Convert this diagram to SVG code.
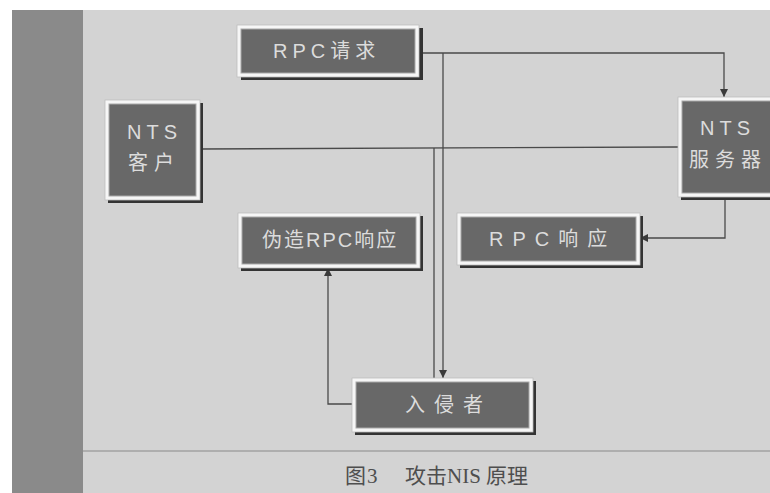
<svg xmlns="http://www.w3.org/2000/svg" width="770" height="493" viewBox="0 0 770 493">
  <defs>
    <style>
      .bg { fill: #d3d3d3; }
      .band { fill: #8a8a8a; }
      .shadow { fill: #333333; }
      .frame { fill: #f6f6f6; stroke: #bdbdbd; stroke-width: 0.8; }
      .inner { fill: #686868; stroke: #a8a8a8; stroke-width: 1; }
      .lbl { font-family: "Liberation Sans", "Noto Sans CJK SC", sans-serif; font-size: 20px; fill: #dcdcdc; dominant-baseline: central; }
      .conn { fill: none; stroke: #4a4a4a; stroke-width: 1.3; }
      .cap { font-family: "Liberation Serif", "Noto Sans CJK SC", serif; font-size: 21px; fill: #4e4e4e; }
    </style>
    <marker id="arr" viewBox="0 0 10 10" refX="10" refY="5" markerWidth="8" markerHeight="8" markerUnits="userSpaceOnUse" orient="auto">
      <path d="M0,0 L10,5 L0,10 z" fill="#3a3a3a"/>
    </marker>
  </defs>

  <rect x="0" y="0" width="770" height="493" fill="#ffffff"/>
  <rect class="bg" x="12" y="10" width="758" height="483"/>
  <rect class="band" x="12" y="10" width="71" height="483"/>
  <line x1="83" y1="451" x2="770" y2="451" stroke="#8a8a8a" stroke-width="1.2"/>

  <g id="connectors">
    <polyline class="conn" points="420,53 724,53 724,97" marker-end="url(#arr)"/>
    <polyline class="conn" points="443,53 443,378" marker-end="url(#arr)"/>
    <line class="conn" x1="200" y1="149" x2="678" y2="147"/>
    <polyline class="conn" points="434,148 434,378"/>
    <polyline class="conn" points="725,197 725,238 640,238" marker-end="url(#arr)"/>
    <polyline class="conn" points="352,404 328,404 328,268" marker-end="url(#arr)"/>
  </g>

  <g id="rpc-request">
    <rect class="shadow" x="241" y="28" width="182" height="52"/>
    <rect class="frame" x="237" y="25" width="182" height="52"/>
    <rect class="inner" x="241" y="29" width="174" height="44"/>
    <text class="lbl" x="273" y="51" letter-spacing="5">RPC请求</text>
  </g>

  <g id="nts-client">
    <rect class="shadow" x="108" y="103" width="95" height="100"/>
    <rect class="frame" x="105" y="100" width="95" height="100"/>
    <rect class="inner" x="109" y="104" width="87" height="92"/>
    <text class="lbl" x="127" y="132" letter-spacing="5">NTS</text>
    <text class="lbl" x="128" y="163" letter-spacing="6">客户</text>
  </g>

  <g id="nts-server">
    <rect class="shadow" x="681" y="100" width="92" height="100"/>
    <rect class="frame" x="678" y="97" width="95" height="100"/>
    <rect class="inner" x="682" y="101" width="90" height="92"/>
    <text class="lbl" x="700" y="128" letter-spacing="5">NTS</text>
    <text class="lbl" x="689" y="160" letter-spacing="6">服务器</text>
  </g>

  <g id="rpc-response">
    <rect class="shadow" x="460" y="216" width="183" height="52"/>
    <rect class="frame" x="457" y="213" width="183" height="52"/>
    <rect class="inner" x="461" y="217" width="175" height="44"/>
    <text class="lbl" x="489" y="239" letter-spacing="9">RPC响应</text>
  </g>

  <g id="fake-rpc-response">
    <rect class="shadow" x="241" y="216" width="182" height="55"/>
    <rect class="frame" x="238" y="213" width="182" height="55"/>
    <rect class="inner" x="242" y="217" width="174" height="47"/>
    <text class="lbl" x="262" y="240" letter-spacing="2">伪造RPC响应</text>
  </g>

  <g id="intruder">
    <rect class="shadow" x="355" y="381" width="181" height="54"/>
    <rect class="frame" x="352" y="378" width="181" height="54"/>
    <rect class="inner" x="356" y="382" width="173" height="46"/>
    <text class="lbl" x="405" y="405" letter-spacing="9">入侵者</text>
  </g>

  <text class="cap" x="345" y="483" letter-spacing="1">图3</text>
  <text class="cap" x="405" y="483">攻击NIS 原理</text>
</svg>
